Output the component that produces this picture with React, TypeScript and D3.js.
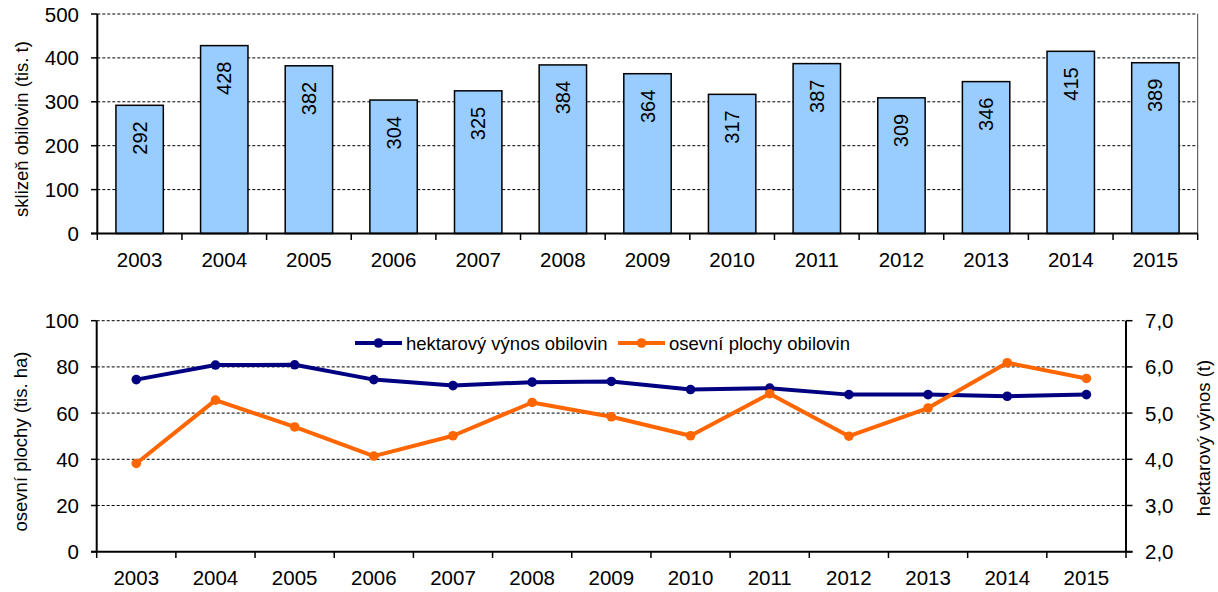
import * as d3 from 'd3';

const years = ['2003', '2004', '2005', '2006', '2007', '2008', '2009', '2010', '2011', '2012', '2013', '2014', '2015'];
// sklizeň obilovin (tis. t)
const harvest = [292, 428, 382, 304, 325, 384, 364, 317, 387, 309, 346, 415, 389];
// navy line, read against the left axis (0–100)
const navyValues = [74.5, 80.8, 80.9, 74.5, 71.9, 73.4, 73.7, 70.2, 70.8, 68.0, 68.0, 67.3, 68.0];
// orange line, read against the right axis (2,0–7,0)
const orangeValues = [3.91, 5.28, 4.7, 4.07, 4.51, 5.23, 4.92, 4.51, 5.42, 4.5, 5.11, 6.09, 5.75];

const topTicks = [0, 100, 200, 300, 400, 500];
const leftTicks = [0, 20, 40, 60, 80, 100];
const rightTicks = [2, 3, 4, 5, 6, 7];

const legendItems = [
  { label: 'hektarový výnos obilovin', color: '#000080' },
  { label: 'osevní plochy obilovin', color: '#ff6600' },
];

const FONT = '"Liberation Sans", Arial, sans-serif';
const TICK_FS = 20.5;

export default function App() {
  // top chart
  const x1 = d3.scaleBand<string>().domain(years).range([97.3, 1197.7]).paddingInner(0.44).paddingOuter(0.22);
  const y1 = d3.scaleLinear().domain([0, 500]).range([233.5, 14]);
  const step1 = x1.step();
  const bounds1 = years.map((d) => (x1(d) as number) - (step1 * 0.44) / 2).concat([1197.7]);

  // bottom chart
  const x2 = d3.scalePoint<string>().domain(years).range([96.7, 1126]).padding(0.5);
  const yL = d3.scaleLinear().domain([0, 100]).range([551.7, 320.7]);
  const yR = d3.scaleLinear().domain([2, 7]).range([551.7, 320.7]);
  const step2 = x2.step();
  const bounds2 = years.map((d) => (x2(d) as number) - step2 / 2).concat([1126]);

  const navyLine = d3.line<number>().x((_, i) => x2(years[i]) as number).y((d) => yL(d));
  const orangeLine = d3.line<number>().x((_, i) => x2(years[i]) as number).y((d) => yR(d));

  const fmtR = (v: number) => v.toFixed(1).replace('.', ',');

  return (
    <svg width={1218} height={592} style={{ position: 'absolute', left: 0, top: 0, fontFamily: FONT }}>
      <rect width={1218} height={592} fill="#fff" />

      {/* ---------- top chart ---------- */}
      {topTicks.filter((t) => t > 0).map((t) => (
        <line key={'g1' + t} x1={97.3} x2={1197.7} y1={y1(t)} y2={y1(t)} stroke="#000" strokeWidth={1} strokeDasharray="3,2" />
      ))}
      <line x1={1197.7} x2={1197.7} y1={14} y2={233.5} stroke="#444" strokeWidth={1} />
      {years.map((d, i) => {
        const bx = x1(d) as number;
        const top = y1(harvest[i]);
        return (
          <g key={'b' + d}>
            <rect x={bx} y={top} width={x1.bandwidth()} height={y1(0) - top} fill="#99ccff" stroke="#000" strokeWidth={1.5} />
            <text
              transform={`translate(${bx + x1.bandwidth() / 2},${top + 16}) rotate(-90)`}
              textAnchor="end"
              dominantBaseline="central"
              fontSize={20}
            >
              {harvest[i]}
            </text>
            <text x={bx + x1.bandwidth() / 2} y={267} textAnchor="middle" fontSize={TICK_FS}>{d}</text>
          </g>
        );
      })}
      {topTicks.map((t) => (
        <g key={'t1' + t}>
          <line x1={91} x2={97.3} y1={y1(t)} y2={y1(t)} stroke="#000" strokeWidth={1.5} />
          <text x={79} y={y1(t)} textAnchor="end" dominantBaseline="central" fontSize={TICK_FS}>{t}</text>
        </g>
      ))}
      {bounds1.map((b, i) => (
        <line key={'xt1' + i} x1={b} x2={b} y1={233.5} y2={240} stroke="#000" strokeWidth={1.5} />
      ))}
      <line x1={97.3} x2={97.3} y1={14} y2={233.5} stroke="#000" strokeWidth={2} />
      <line x1={91} x2={1197.7} y1={233.5} y2={233.5} stroke="#000" strokeWidth={2} />
      <text transform="translate(21.5,129) rotate(-90)" textAnchor="middle" dominantBaseline="central" fontSize={18.5}>
        sklizeň obilovin (tis. t)
      </text>

      {/* ---------- bottom chart ---------- */}
      {leftTicks.filter((t) => t > 0).map((t) => (
        <line key={'g2' + t} x1={96.7} x2={1126} y1={yL(t)} y2={yL(t)} stroke="#000" strokeWidth={1} strokeDasharray="3,2" />
      ))}
      {leftTicks.map((t) => (
        <g key={'t2' + t}>
          <line x1={91} x2={96.7} y1={yL(t)} y2={yL(t)} stroke="#000" strokeWidth={1.5} />
          <text x={79} y={yL(t)} textAnchor="end" dominantBaseline="central" fontSize={TICK_FS}>{t}</text>
        </g>
      ))}
      {rightTicks.map((t) => (
        <g key={'t3' + t}>
          <line x1={1126} x2={1132.5} y1={yR(t)} y2={yR(t)} stroke="#000" strokeWidth={1.5} />
          <text x={1145} y={yR(t)} textAnchor="start" dominantBaseline="central" fontSize={TICK_FS}>{fmtR(t)}</text>
        </g>
      ))}
      {bounds2.map((b, i) => (
        <line key={'xt2' + i} x1={b} x2={b} y1={551.7} y2={558} stroke="#000" strokeWidth={1.5} />
      ))}
      {years.map((d) => (
        <text key={'xl2' + d} x={x2(d) as number} y={585} textAnchor="middle" fontSize={TICK_FS}>{d}</text>
      ))}
      <line x1={96.7} x2={96.7} y1={320.7} y2={551.7} stroke="#000" strokeWidth={2} />
      <line x1={1126} x2={1126} y1={320.7} y2={551.7} stroke="#000" strokeWidth={2} />
      <line x1={91} x2={1132.5} y1={551.7} y2={551.7} stroke="#000" strokeWidth={2} />

      <path d={navyLine(navyValues) as string} fill="none" stroke="#000080" strokeWidth={4} strokeLinejoin="round" />
      {navyValues.map((v, i) => (
        <circle key={'nc' + i} cx={x2(years[i]) as number} cy={yL(v)} r={4.8} fill="#000080" />
      ))}
      <path d={orangeLine(orangeValues) as string} fill="none" stroke="#ff6600" strokeWidth={4} strokeLinejoin="round" />
      {orangeValues.map((v, i) => (
        <circle key={'oc' + i} cx={x2(years[i]) as number} cy={yR(v)} r={4.8} fill="#ff6600" />
      ))}

      {/* legend */}
      {legendItems.map((it, i) => {
        const lx = i === 0 ? 355 : 618;
        return (
          <g key={'lg' + i}>
            <line x1={lx} x2={lx + 47} y1={343} y2={343} stroke={it.color} strokeWidth={4} />
            <circle cx={lx + 23.5} cy={343} r={4.8} fill={it.color} />
            <text x={lx + 51} y={343} dominantBaseline="central" fontSize={18.5}>{it.label}</text>
          </g>
        );
      })}

      <text transform="translate(20.7,441.5) rotate(-90)" textAnchor="middle" dominantBaseline="central" fontSize={18.5}>
        osevní plochy (tis. ha)
      </text>
      <text transform="translate(1203,438) rotate(-90)" textAnchor="middle" dominantBaseline="central" fontSize={18.5}>
        hektarový výnos (t)
      </text>
    </svg>
  );
}
